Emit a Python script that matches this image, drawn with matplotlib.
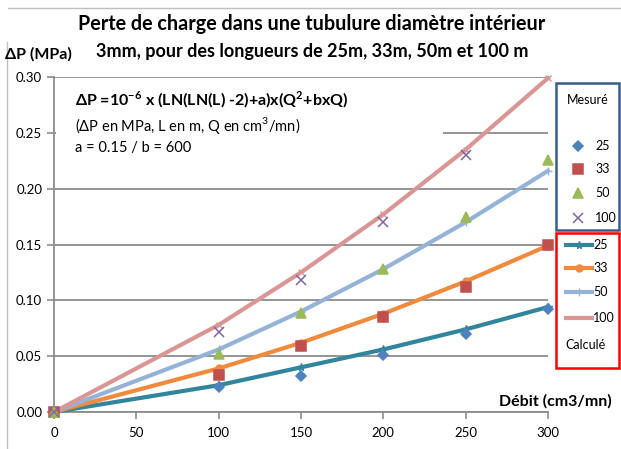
import matplotlib.pyplot as plt
from matplotlib.lines import Line2D
from matplotlib.patches import Rectangle

plt.rcParams["font.family"] = ["Lato", "DejaVu Sans"]
plt.rcParams["mathtext.fontset"] = "custom"
plt.rcParams["mathtext.rm"] = "Lato"
plt.rcParams["mathtext.bf"] = "Lato:bold"

# flow rate Q (cm3/mn)
q_meas = [0, 100, 150, 200, 250, 300]
q_calc = [0, 100, 150, 200, 250, 300]

# measured pressure drop (MPa)
meas_25 = [0, 0.022, 0.032, 0.051, 0.070, 0.092]
meas_33 = [0, 0.033, 0.059, 0.085, 0.112, 0.150]
meas_50 = [0, 0.052, 0.089, 0.128, 0.175, 0.226]
meas_100 = [0, 0.072, 0.118, 0.170, 0.230]

# calculated pressure drop (MPa)
calc_25 = [0, 0.024, 0.040, 0.056, 0.074, 0.094]
calc_33 = [0, 0.039, 0.062, 0.088, 0.117, 0.149]
calc_50 = [0, 0.056, 0.090, 0.128, 0.170, 0.216]
calc_100 = [0, 0.078, 0.125, 0.177, 0.235, 0.299]

W, H = 621, 449
GRID = "#8c8c8c"

fig = plt.figure(figsize=(W / 100, H / 100), dpi=100)
ax = fig.add_axes([54 / W, 1 - 412 / H, 494 / W, 335 / H])


def fx(x, y):
    return x / W, 1 - y / H


# light outer frame of the chart area
fig.add_artist(Line2D([8 / W, 1], [1 - 8 / H] * 2, color="#bfbfbf", lw=1))
fig.add_artist(Line2D([7 / W] * 2, [0, 1 - 42 / H], color="#bfbfbf", lw=1))

calc = [
    (calc_25, "#31859c", "*", 5.5),
    (calc_33, "#f08a3c", "o", 5),
    (calc_50, "#95b3d7", "+", 6),
    (calc_100, "#d99694", "x", 5),
]
for vals, col, mk, ms in calc:
    ax.plot(q_calc[:len(vals)], vals, color=col, lw=3, marker=mk, ms=ms,
            mec=col, mfc=col, zorder=3, clip_on=False)

meas = [
    (meas_25, "#4f81bd", "D", 5.5),
    (meas_33, "#c0504d", "s", 6.5),
    (meas_50, "#9bbb59", "^", 7.5),
    (meas_100, "#8064a2", "x", 6.5),
]
for vals, col, mk, ms in meas:
    ax.plot(q_meas[:len(vals)], vals, ls="none", marker=mk, ms=ms,
            color=col, mew=1.1, zorder=4, clip_on=False)

ax.set_xlim(0, 300)
ax.set_ylim(0, 0.30)
ax.set_xticks(range(0, 301, 50))
ax.set_yticks([0, 0.05, 0.10, 0.15, 0.20, 0.25, 0.30])
ax.set_yticklabels([f"{v:.2f}" for v in ax.get_yticks()])
ax.tick_params(labelsize=9.5, colors=GRID, labelcolor="black", length=5,
               width=1.2, direction="out")
ax.tick_params(axis="x", pad=6)
ax.grid(axis="y", color=GRID, lw=1.3)
ax.set_axisbelow(True)
for s in ["top", "right"]:
    ax.spines[s].set_visible(False)
for s in ["left", "bottom"]:
    ax.spines[s].set_color(GRID)
    ax.spines[s].set_linewidth(1.3)

# white box behind the formula
ax.add_patch(Rectangle((0.004, 0.737), 0.783, 0.254, transform=ax.transAxes,
                       facecolor="white", edgecolor="none", zorder=1))

fig.text(*fx(312, 24), "Perte de charge dans une tubulure diamètre intérieur",
         ha="center", va="center", fontsize=14.2, fontweight="bold")
fig.text(*fx(312, 51), "3mm, pour des longueurs de 25m, 33m, 50m et 100 m",
         ha="center", va="center", fontsize=13, fontweight="bold")
fig.text(*fx(5, 54), "ΔP (MPa)", ha="left", va="center", fontsize=11.5,
         fontweight="bold")
fig.text(*fx(612, 401), "Débit (cm3/mn)", ha="right", va="center",
         fontsize=11.5, fontweight="bold")

fig.text(*fx(75, 100),
         r"ΔP =10$^{\mathbf{-6}}$ x (LN(LN(L) -2)+a)x(Q$^{\mathbf{2}}$+bxQ)",
         ha="left", va="center", fontsize=11.5, fontweight="bold")
fig.text(*fx(75, 126), "(ΔP en MPa, L en m, Q en cm$^{3}$/mn)",
         ha="left", va="center", fontsize=10.5)
fig.text(*fx(75, 148), "a = 0.15 / b = 600", ha="left", va="center",
         fontsize=10.5)

# legend: measured
x0, y0 = fx(556, 230)
x1, y1 = fx(619, 83)
fig.add_artist(Rectangle((x0, y0), x1 - x0, y1 - y0, transform=fig.transFigure,
                         facecolor="white", edgecolor="#385d8a", lw=1.8))
fig.text(*fx(588, 100), "Mesuré", ha="center", va="center", fontsize=9)
for (vals, col, mk, ms), lab, yy in zip(meas, ["25", "33", "50", "100"],
                                        [146, 169, 193, 218]):
    fig.add_artist(Line2D([fx(578, yy)[0]], [fx(578, yy)[1]], ls="none",
                          marker=mk, ms=ms, color=col, mew=1.1))
    fig.text(*fx(595, yy), lab, ha="left", va="center", fontsize=9)

# legend: calculated
x0, y0 = fx(556, 368)
x1, y1 = fx(619, 233)
fig.add_artist(Rectangle((x0, y0), x1 - x0, y1 - y0, transform=fig.transFigure,
                         facecolor="white", edgecolor="#ff0000", lw=1.8))
for (vals, col, mk, ms), lab, yy in zip(calc, ["25", "33", "50", "100"],
                                        [245, 268, 292, 318]):
    xa, ya = fx(566, yy)
    xb, _ = fx(592, yy)
    fig.add_artist(Line2D([xa, xb], [ya, ya], color=col, lw=3))
    if lab != "100":
        fig.add_artist(Line2D([(xa + xb) / 2], [ya], ls="none", marker=mk,
                              ms=ms, color=col))
    fig.text(*fx(593, yy), lab, ha="left", va="center", fontsize=9)
fig.text(*fx(586, 345), "Calculé", ha="center", va="center", fontsize=9)

fig.savefig("out.png", dpi=100)
